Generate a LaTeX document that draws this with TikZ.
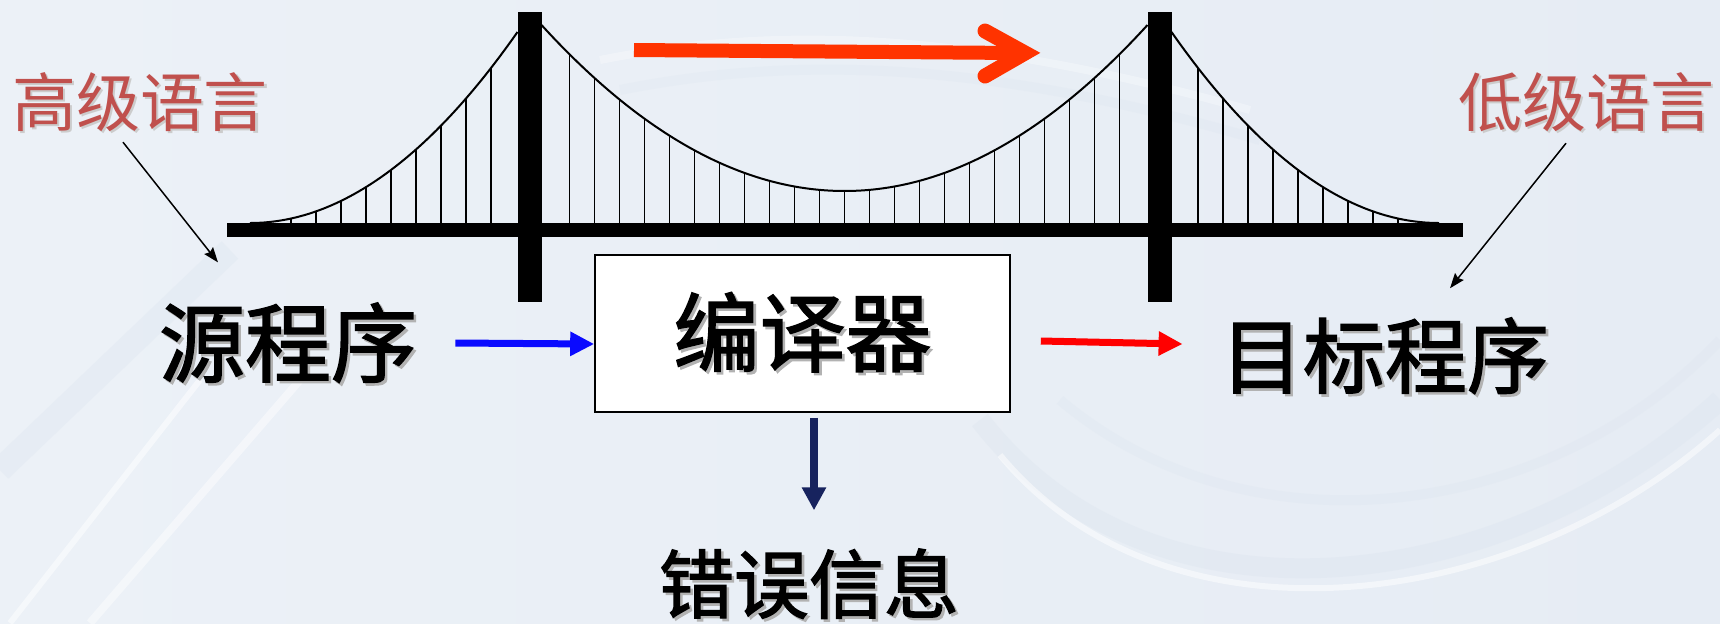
\documentclass[tikz,border=0pt]{standalone}
\usepackage{fontspec}
\newfontfamily\cjk{Noto Sans CJK SC}
\newfontfamily\cjkheavy{Noto Sans CJK SC}[FakeBold=1.8]
\usetikzlibrary{arrows.meta,calc}

\definecolor{labelred}{RGB}{192,80,77}
\definecolor{bigred}{RGB}{255,51,0}
\definecolor{arrowblue}{RGB}{10,10,255}
\definecolor{arrowred}{RGB}{255,0,0}
\definecolor{navy}{RGB}{23,35,94}
\definecolor{bgLeft}{RGB}{236,241,247}
\definecolor{bgMid}{RGB}{245,248,252}
\definecolor{bgRight}{RGB}{230,236,244}
\definecolor{swoosh}{RGB}{222,230,240}

% text with a soft offset shadow behind it
\newcommand\shadowtext[3]{%
  \makebox[0pt][l]{\hspace*{#2}\raisebox{-#2}{\textcolor{#1}{#3}}}#3}

\tikzset{
  x=0.5pt, y=-0.5pt,
  cable/.style={black, line width=1pt},
  hanger/.style={black, line width=0.75pt},
  mass/.style={fill=black, draw=none},
  bigtext/.style={inner sep=0pt, text=black},
  langtext/.style={inner sep=0pt, text=labelred,
    font=\cjk\fontsize{32pt}{32pt}\selectfont},
  thinarrow/.style={black, line width=0.75pt,
    -{Stealth[length=7.5pt, width=5.5pt, inset=1pt]}},
  flowarrow/.style={line width=3.5pt,
    -{Triangle[length=12pt, width=11.5pt]}},
  compbox/.style={draw=black, line width=0.8pt, fill=white,
    minimum width=207.5pt, minimum height=78.5pt, inner sep=0pt},
}

\begin{document}
\begin{tikzpicture}
\useasboundingbox (0,0) rectangle (1720,623);

% background with faint swooshes
\shade[left color=bgLeft, middle color=bgMid, right color=bgRight]
  (0,0) rectangle (1720,623);
\draw[swoosh, line width=10pt, opacity=0.45]
  (980,420) .. controls (1150,640) and (1500,600) .. (1720,400);
\draw[white, line width=3pt, opacity=0.5]
  (1000,455) .. controls (1170,660) and (1520,610) .. (1720,430);
\draw[swoosh, line width=5pt, opacity=0.35]
  (1060,400) .. controls (1250,560) and (1550,520) .. (1720,340);
\draw[swoosh, line width=12pt, opacity=0.4]
  (0,470) -- (230,250);
\draw[white, line width=3pt, opacity=0.5]
  (10,623) -- (200,380);
\draw[white, line width=4pt, opacity=0.45]
  (90,623) -- (300,380);
\draw[white, line width=4pt, opacity=0.3]
  (600,60) .. controls (800,20) and (1000,40) .. (1250,110);
\draw[swoosh, line width=5pt, opacity=0.3]
  (620,90) .. controls (820,50) and (1020,70) .. (1260,140);

% suspension cables
\draw[cable] plot[domain=250:517.5, samples=60]
  (\x, {223-191*((\x-250)/267.5)^2});
\draw[cable] plot[domain=1171.5:1439, samples=60]
  (\x, {223-191*((1439-\x)/267.5)^2});
\draw[cable] plot[domain=541.5:1147.5, samples=100]
  (\x, {191-166*((\x-844.5)/303)^2});

% hangers of the side spans
\foreach \k in {0,...,8}{
  \pgfmathsetmacro\hx{291+25*\k}
  \pgfmathsetmacro\hy{223-191*((\hx-250)/267.5)^2}
  \pgfmathsetmacro\hxr{1689-\hx}
  \draw[hanger] (\hx,\hy) -- (\hx,223);
  \draw[hanger] (\hxr,\hy) -- (\hxr,223);
}
% hangers of the main span
\foreach \k in {0,...,22}{
  \pgfmathsetmacro\hx{569.5+25*\k}
  \pgfmathsetmacro\hy{191-166*((\hx-844.5)/303)^2}
  \draw[hanger] (\hx,\hy) -- (\hx,223);
}

% deck and towers
\fill[mass] (227,223) rectangle (1463,237);
\fill[mass] (517.5,12) rectangle (541.5,302);
\fill[mass] (1147.5,12) rectangle (1171.5,302);

% direction arrow above the main span
\draw[bigred, line width=7pt] (634,50) -- (1018,53);
\draw[bigred, line width=7.5pt, line cap=round, line join=miter]
  (985,31) -- (1025,53) -- (985,76);

% labels
\node[langtext] (hll) at (140,103) {\shadowtext{black!20}{1.2pt}{高级语言}};
\node[langtext] (lll) at (1586,103) {\shadowtext{black!20}{1.2pt}{低级语言}};

\node[bigtext, font=\cjkheavy\fontsize{43pt}{43pt}\selectfont]
  (src) at (288,344) {\shadowtext{black!30}{1.3pt}{源程序}};
\node[compbox, font=\cjkheavy\fontsize{43pt}{43pt}\selectfont]
  (comp) at (802.5,333.5) {\raisebox{-5pt}{\shadowtext{black!30}{1.3pt}{编译器}}};
\node[bigtext, font=\cjkheavy\fontsize{41pt}{41pt}\selectfont]
  (tgt) at (1385,357) {\shadowtext{black!30}{1.3pt}{目标程序}};
\node[bigtext, font=\cjkheavy\fontsize{37.5pt}{37.5pt}\selectfont]
  (err) at (809,585) {\shadowtext{black!30}{1.3pt}{错误信息}};

% connectors
\draw[thinarrow] ($(hll.south)+(-17,8)$) -- ($(src.north)+(-70,-40)$);
\draw[thinarrow] ($(lll.south)+(-20,9)$) -- ($(tgt.north)+(65,-29)$);
\draw[flowarrow, arrowblue] ($(src.east)+(38,-1)$) -- (src.east -| comp.west);
\draw[flowarrow, arrowred] ($(comp.east)+(30,7.5)$) -- ($(tgt.west)+(-38,-13)$);
\draw[flowarrow, navy, line width=4pt, -{Triangle[length=11.5pt, width=11.5pt]}]
  ($(comp.south)+(11.5,5)$) -- ($(err.north)+(5,-38)$);
\end{tikzpicture}
\end{document}
